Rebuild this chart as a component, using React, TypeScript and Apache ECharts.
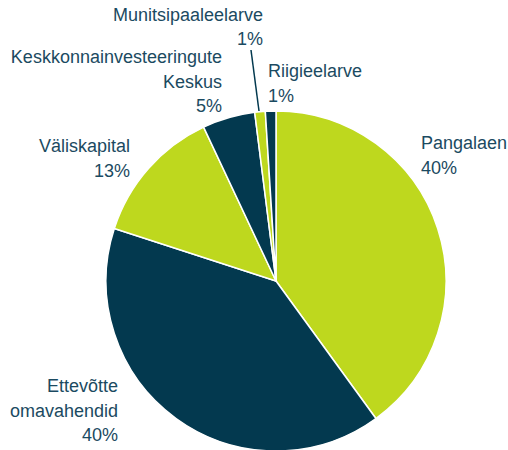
import React, { useEffect, useRef } from "react";
import * as echarts from "echarts";

const names = [
  "Pangalaen",
  "Ettevõtte\nomavahendid",
  "Väliskapital",
  "Keskkonnainvesteeringute\nKeskus",
  "Munitsipaaleelarve",
  "Riigieelarve",
];
const values = [40, 40, 13, 5, 1, 1];
const colors = ["#BED81E", "#03394F", "#BED81E", "#03394F", "#BED81E", "#03394F"];

// label anchor: [x, top, align]
const labelPos: [number, number, string][] = [
  [421, 131, "left"],
  [118, 374, "right"],
  [130, 134, "right"],
  [222, 45, "right"],
  [263, 2.5, "right"],
  [268, 59, "left"],
];

export default function App() {
  const ref = useRef<HTMLDivElement>(null);
  useEffect(() => {
    const chart = echarts.init(ref.current!, undefined, { renderer: "svg" });
    chart.setOption({
      animation: false,
      backgroundColor: "#ffffff",
      series: [
        {
          type: "pie",
          center: [276, 281],
          radius: [0, 170],
          startAngle: 90,
          clockwise: true,
          avoidLabelOverlap: false,
          itemStyle: { borderColor: "#ffffff", borderWidth: 1.5 },
          label: {
            show: true,
            position: "outside",
            overflow: "none",
            alignTo: "none",
            fontFamily: "Liberation Sans, Arial, sans-serif",
            fontSize: 18,
            lineHeight: 24.5,
            color: "#1B4A61",
            formatter: (p: any) => `${p.name}\n${Math.round(p.percent)}%`,
          },
          labelLine: { show: false },
          labelLayout: (params: any) => {
            const pos = labelPos[params.dataIndex];
            return { x: pos[0], y: pos[1], align: pos[2], verticalAlign: "top", hideOverlap: false };
          },
          data: names.map((n, i) => ({
            name: n,
            value: values[i],
            itemStyle: { color: colors[i] },
          })),
        },
      ],
      graphic: [
        {
          type: "line",
          shape: { x1: 251, y1: 50, x2: 259, y2: 111 },
          style: { stroke: "#03394F", lineWidth: 1.5 },
        },
      ],
    });
    return () => chart.dispose();
  }, []);
  return (
    <div
      ref={ref}
      style={{ position: "absolute", left: 0, top: 0, width: 508, height: 450 }}
    />
  );
}
